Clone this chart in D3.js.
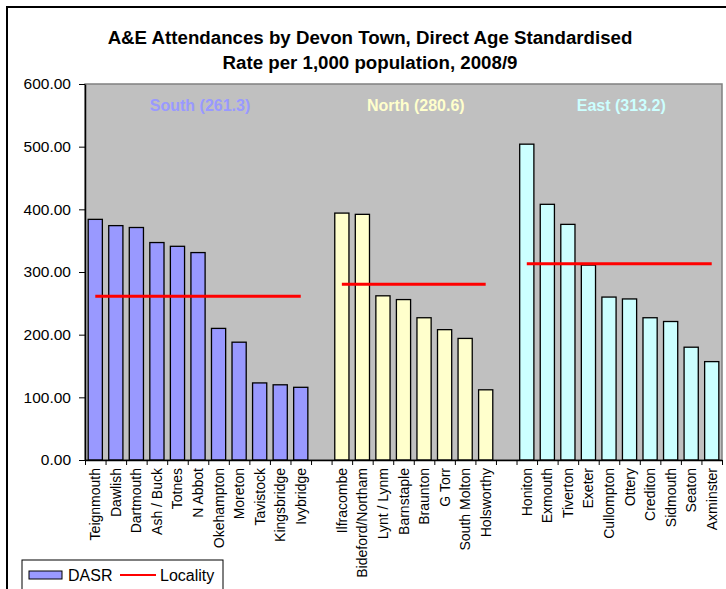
<!DOCTYPE html>
<html>
<head>
<meta charset="utf-8">
<script src="https://cdn.jsdelivr.net/npm/d3@7"></script>
<style>
  body { margin: 0; background: #fff; }
  text { font-family: "Liberation Sans", Arial, sans-serif; }
</style>
</head>
<body>
<div id="graph"></div>
<script>
"use strict"

// towns per locality, ordered as in the chart
var southTowns = ["Teignmouth", "Dawlish", "Dartmouth", "Ash / Buck", "Totnes", "N Abbot", "Okehampton", "Moreton", "Tavistock", "Kingsbridge", "Ivybridge"]
var southRates = [384, 374, 371, 347, 341, 331, 210, 188, 123, 120, 116]
var northTowns = ["Ilfracombe", "Bideford/Northam", "Lynt / Lynm", "Barnstaple", "Braunton", "G Torr", "South Molton", "Holsworthy"]
var northRates = [394, 392, 262, 256, 227, 208, 194, 112]
var eastTowns = ["Honiton", "Exmouth", "Tiverton", "Exeter", "Cullompton", "Ottery", "Crediton", "Sidmouth", "Seaton", "Axminster"]
var eastRates = [504, 408, 376, 311, 260, 257, 227, 221, 180, 157]
var localityNames = ["South", "North", "East"]
var localityRates = [261.3, 280.6, 313.2]
var yTicks = [0, 100, 200, 300, 400, 500, 600]

var width = 726, height = 589
var margin = {top: 84, left: 85, right: 4, bottom: 129}

main()

function main() {
    let svg = d3.select("#graph").append("svg")
        .attr("width", width).attr("height", height)

    let groups = [
        {name: localityNames[0], towns: southTowns, rates: southRates, avg: localityRates[0], fill: "#9999FF"},
        {name: localityNames[1], towns: northTowns, rates: northRates, avg: localityRates[1], fill: "#FFFFCC"},
        {name: localityNames[2], towns: eastTowns, rates: eastRates, avg: localityRates[2], fill: "#CCFFFF"}
    ]

    // one empty category slot between localities
    let cats = []
    let bars = []
    groups.forEach(function(g, gi) {
        if (gi > 0) cats.push("__gap" + gi)
        g.towns.forEach(function(t, i) {
            cats.push(t)
            bars.push({town: t, value: g.rates[i], fill: g.fill})
        })
    })

    let x0 = margin.left, x1 = width - margin.right
    let y0 = height - margin.bottom, y1 = margin.top

    let x = d3.scaleBand().domain(cats).range([x0, x1]).paddingInner(0.31).paddingOuter(0.155)
    let xEdge = d3.scaleLinear().domain([0, cats.length]).range([x0, x1])
    let y = d3.scaleLinear().domain([0, 600]).range([y0, y1])

    // outer chart border
    svg.append("rect")
        .attr("x", 7).attr("y", 7).attr("width", 760).attr("height", 640)
        .attr("fill", "#fff").attr("stroke", "#000").attr("stroke-width", 2)

    svg.append("text").attr("x", 370).attr("y", 44)
        .attr("text-anchor", "middle").attr("font-size", "18.7px").attr("font-weight", "bold")
        .text("A&E Attendances by Devon Town, Direct Age Standardised")
    svg.append("text").attr("x", 370).attr("y", 69)
        .attr("text-anchor", "middle").attr("font-size", "18.7px").attr("font-weight", "bold")
        .text("Rate per 1,000 population, 2008/9")

    // plot area
    svg.append("rect")
        .attr("x", x0).attr("y", y1).attr("width", x1 - x0).attr("height", y0 - y1)
        .attr("fill", "#C0C0C0").attr("stroke", "#808080").attr("stroke-width", 1.5)

    svg.append("g").selectAll("rect")
        .data(bars)
        .enter().append("rect")
        .attr("x", function(d) { return x(d.town) })
        .attr("y", function(d) { return y(d.value) })
        .attr("width", x.bandwidth())
        .attr("height", function(d) { return y(0) - y(d.value) })
        .attr("fill", function(d) { return d.fill })
        .attr("stroke", "#000").attr("stroke-width", 1.3)

    // locality average lines, first bar centre to last bar centre
    let half = x.bandwidth() / 2
    svg.append("g").selectAll("line")
        .data(groups)
        .enter().append("line")
        .attr("x1", function(d) { return x(d.towns[0]) + half })
        .attr("x2", function(d) { return x(d.towns[d.towns.length - 1]) + half })
        .attr("y1", function(d) { return y(d.avg) })
        .attr("y2", function(d) { return y(d.avg) })
        .attr("stroke", "#FF0000").attr("stroke-width", 3)

    svg.append("g").selectAll("text")
        .data(groups)
        .enter().append("text")
        .attr("x", function(d) {
            let a = x(d.towns[0]), b = x(d.towns[d.towns.length - 1]) + x.bandwidth()
            return (a + b) / 2 + 2
        })
        .attr("y", 111)
        .attr("text-anchor", "middle").attr("font-size", "16px").attr("font-weight", "bold")
        .attr("fill", function(d) { return d.fill })
        .text(function(d) { return d.name + " (" + d.avg.toFixed(1) + ")" })

    // y axis
    let yAxis = svg.append("g")
        .attr("transform", "translate(" + x0 + ",0)")
        .call(d3.axisLeft(y).tickValues(yTicks).tickFormat(d3.format(".2f")).tickSize(6).tickSizeOuter(0).tickPadding(8))
    yAxis.select(".domain").attr("stroke", "#000").attr("stroke-width", 1.5)
    yAxis.selectAll("text").attr("font-size", "15.5px").attr("fill", "#000")
        .attr("font-family", "'Liberation Sans', Arial, sans-serif")

    // x axis: tick marks sit on category boundaries
    let xAxis = svg.append("g")
        .attr("transform", "translate(0," + y0 + ")")
        .call(d3.axisBottom(xEdge).tickValues(d3.range(cats.length + 1)).tickFormat("").tickSize(5).tickSizeOuter(0))
    xAxis.select(".domain").attr("stroke", "#000").attr("stroke-width", 1.5)

    svg.append("g").selectAll("text")
        .data(bars)
        .enter().append("text")
        .attr("transform", function(d) {
            return "translate(" + (x(d.town) + half + 5) + "," + (y0 + 8) + ") rotate(-90)"
        })
        .attr("text-anchor", "end")
        .attr("font-size", "14px")
        .text(function(d) { return d.town })

    // legend
    let legend = svg.append("g")
    legend.append("rect")
        .attr("x", 22).attr("y", 560).attr("width", 201).attr("height", 45)
        .attr("fill", "#fff").attr("stroke", "#000").attr("stroke-width", 1)
    legend.append("rect")
        .attr("x", 29).attr("y", 571).attr("width", 33).attr("height", 8)
        .attr("fill", groups[0].fill).attr("stroke", "#000").attr("stroke-width", 1)
    legend.append("text").attr("x", 68).attr("y", 581).attr("font-size", "16px").text("DASR")
    legend.append("line")
        .attr("x1", 120).attr("x2", 156).attr("y1", 575).attr("y2", 575)
        .attr("stroke", "#FF0000").attr("stroke-width", 2)
    legend.append("text").attr("x", 160).attr("y", 581).attr("font-size", "16px").text("Locality")
}
</script>
</body>
</html>
